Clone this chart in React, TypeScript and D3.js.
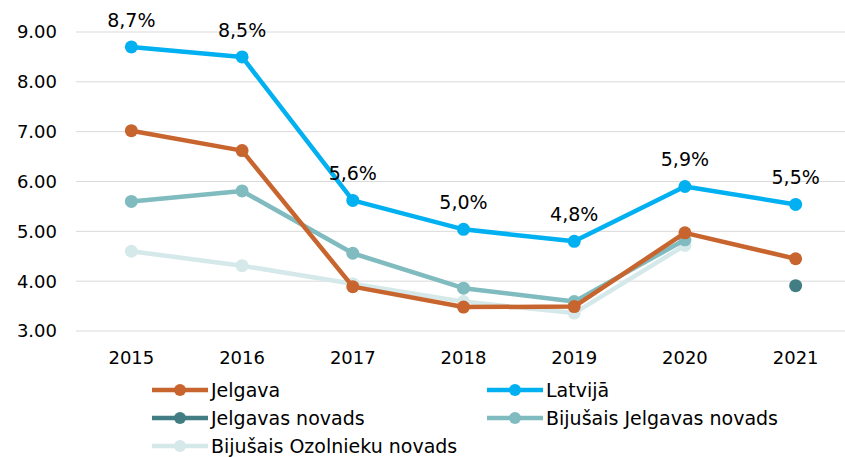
import React from 'react';
import * as d3 from 'd3';

const years = ['2015', '2016', '2017', '2018', '2019', '2020', '2021'];
const jelgava = [7.02, 6.62, 3.89, 3.48, 3.49, 4.97, 4.45];
const latvija = [8.7, 8.5, 5.62, 5.04, 4.8, 5.9, 5.54];
const jelgavasNovads = [null, null, null, null, null, null, 3.91];
const bijJelgavas = [5.6, 5.81, 4.56, 3.86, 3.59, 4.83, null];
const bijOzolnieku = [4.6, 4.31, 3.95, 3.59, 3.36, 4.72, null];
const latvijaLabels = ['8,7%', '8,5%', '5,6%', '5,0%', '4,8%', '5,9%', '5,5%'];
const yTicks = [3, 4, 5, 6, 7, 8, 9];

const width = 845;
const height = 457;
const font = 'DejaVu Sans, Verdana, sans-serif';

const series = [
  { name: 'Jelgava', values: jelgava, color: '#C8652F' },
  { name: 'Latvijā', values: latvija, color: '#00B0F0' },
  { name: 'Jelgavas novads', values: jelgavasNovads, color: '#427D83' },
  { name: 'Bijušais Jelgavas novads', values: bijJelgavas, color: '#80BBBF' },
  { name: 'Bijušais Ozolnieku novads', values: bijOzolnieku, color: '#D5E8EA' },
];
// draw order: light ones behind
const drawOrder = [4, 3, 0, 2, 1];

const x = d3.scaleBand<string>().domain(years).range([76, 851]);
const y = d3.scaleLinear().domain([3, 9]).range([331, 32]);
const cx = (yr: string) => (x(yr) ?? 0) + x.bandwidth() / 2;

const line = d3
  .line<number | null>()
  .defined(d => d != null)
  .x((d, i) => cx(years[i]))
  .y(d => y(d as number));

export default function App() {
  return (
    <svg
      width={width}
      height={height}
      style={{ position: 'absolute', left: 0, top: 0, background: '#fff' }}
      fontFamily={font}
    >
      {yTicks.map(t => (
        <g key={t}>
          <line x1={76} x2={845} y1={y(t)} y2={y(t)} stroke="#D9D9D9" strokeWidth={1} />
          <text x={57} y={y(t)} dy="0.36em" textAnchor="end" fontSize={18} fill="#000">
            {t.toFixed(2)}
          </text>
        </g>
      ))}
      {years.map(yr => (
        <text key={yr} x={cx(yr)} y={358} dy="0.36em" textAnchor="middle" fontSize={18} fill="#000">
          {yr}
        </text>
      ))}
      {drawOrder.map(si => {
        const s = series[si];
        return (
          <g key={s.name}>
            <path d={line(s.values) ?? ''} fill="none" stroke={s.color} strokeWidth={4.5} strokeLinejoin="round" />
            {s.values.map((v, i) =>
              v == null ? null : <circle key={i} cx={cx(years[i])} cy={y(v)} r={6.5} fill={s.color} />
            )}
          </g>
        );
      })}
      {latvija.map((v, i) => (
        <text key={i} x={cx(years[i])} y={y(v) - 27} dy="0.36em" textAnchor="middle" fontSize={19} fill="#000">
          {latvijaLabels[i]}
        </text>
      ))}
      {series.map((s, i) => {
        const lx = i % 2 === 0 ? 152 : 487;
        const ly = 390 + Math.floor(i / 2) * 28;
        return (
          <g key={s.name}>
            <line x1={lx} x2={lx + 56} y1={ly} y2={ly} stroke={s.color} strokeWidth={4.5} />
            <circle cx={lx + 28} cy={ly} r={6} fill={s.color} />
            <text x={lx + 59} y={ly} dy="0.36em" fontSize={19} fill="#000">
              {s.name}
            </text>
          </g>
        );
      })}
    </svg>
  );
}
